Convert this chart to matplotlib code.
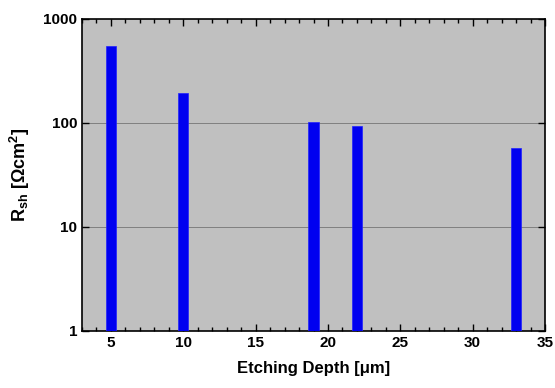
import matplotlib
matplotlib.use("Agg")
import matplotlib.pyplot as plt
from matplotlib.ticker import MultipleLocator, FixedLocator, NullLocator

plt.rcParams['font.family'] = ['Liberation Sans', 'DejaVu Sans']
plt.rcParams['font.weight'] = 'bold'
plt.rcParams['mathtext.fontset'] = 'custom'
plt.rcParams['mathtext.rm'] = 'Liberation Sans:bold'
plt.rcParams['mathtext.it'] = 'Liberation Sans:bold'
plt.rcParams['mathtext.bf'] = 'Liberation Sans:bold'

depth = [5, 10, 19, 22, 33]
rsh = [550, 195, 102, 92, 56]

fig = plt.figure(figsize=(5.55, 3.88), dpi=100)
ax = fig.add_axes([82/555, 1-331/388, (545-82)/555, (331-19)/388])
ax.set_facecolor('#c0c0c0')
ax.bar(depth, rsh, width=0.7, bottom=1, color='#0000f0', edgecolor='#2020ff', linewidth=0.5, zorder=3)
ax.set_yscale('log')
ax.set_ylim(1, 1000)
ax.set_xlim(3, 35)
ax.yaxis.set_major_locator(FixedLocator([1, 10, 100, 1000]))
ax.yaxis.set_minor_locator(NullLocator())
ax.set_yticklabels(['1', '10', '100', '1000'])
ax.xaxis.set_major_locator(MultipleLocator(5))
ax.xaxis.set_minor_locator(MultipleLocator(1))
for v in [10, 100]:
    ax.axhline(v, color='#808080', linewidth=0.7, zorder=1)
ax.tick_params(which='both', direction='in', top=True, right=True, labelsize=11, width=1)
ax.tick_params(which='major', length=5)
ax.tick_params(which='minor', length=3)
for s in ax.spines.values():
    s.set_linewidth(1.2)
ax.set_xlabel('Etching Depth [\u03bcm]', fontsize=12, fontweight='bold', labelpad=8)
ax.set_ylabel('R$_{\\mathregular{sh}}$ [\u03a9cm$^{\\mathregular{2}}$]', fontsize=13, fontweight='bold', labelpad=8)
fig.savefig('out.png', dpi=100)
